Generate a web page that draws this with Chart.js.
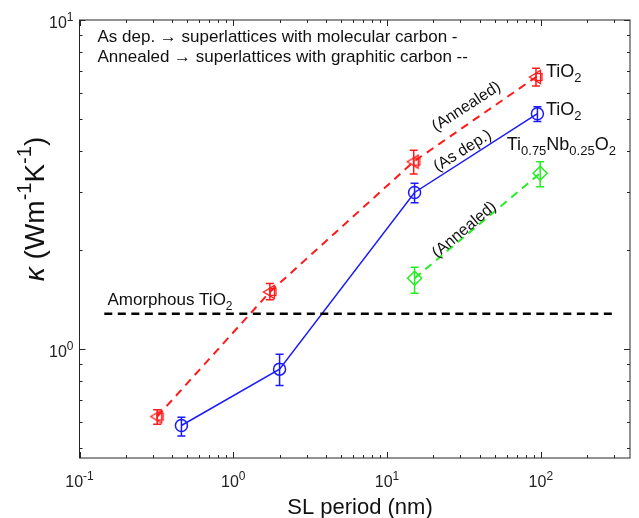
<!DOCTYPE html>
<html>
<head>
<meta charset="utf-8">
<script src="https://cdn.jsdelivr.net/npm/chart.js@4.4.1/dist/chart.umd.min.js"></script>
<style>
  html, body { margin: 0; padding: 0; background: #fff; }
  #wrap { width: 639px; height: 518px; }
</style>
</head>
<body>
<div id="wrap"><canvas id="kappaChart" width="639" height="518"></canvas></div>
<script>
// annealed TiO2 superlattices (graphitic carbon)
const periodAnnealed = [0.32, 1.73, 14.9, 93];
const kappaAnnealed = [0.623, 1.49, 3.71, 6.71];
const errLowAnnealed = [0.590, 1.41, 3.40, 6.30];
const errHighAnnealed = [0.653, 1.58, 4.02, 7.13];

// as deposited TiO2 superlattices (molecular carbon)
const periodAsDep = [0.46, 2.0, 15.1, 95];
const kappaAsDep = [0.585, 0.868, 2.99, 5.19];
const errLowAsDep = [0.544, 0.774, 2.78, 4.91];
const errHighAsDep = [0.620, 0.964, 3.19, 5.45];

// annealed Ti0.75Nb0.25O2
const periodNb = [15.1, 99];
const kappaNb = [1.64, 3.42];
const errLowNb = [1.476, 3.11];
const errHighNb = [1.77, 3.71];

// amorphous TiO2 reference line
const amorphousPeriod = [0.145, 300];
const amorphousKappa = [1.28, 1.28];

const xTickLabels = [0.1, 1, 10, 100];
const yTickLabels = [1, 10];

const FONT = '"Liberation Sans", Arial, Helvetica, sans-serif';
const RED = '#ff1a1a';
const BLUE = '#1a1aff';
const GREEN = '#22ee22';

function toPoints(xs, ys) {
  return xs.map((x, i) => ({ x: x, y: ys[i] }));
}

// triangle pointing left with a small square, like the matlab markers
function makeRedMarker() {
  const c = document.createElement('canvas');
  c.width = 18; c.height = 18;
  const g = c.getContext('2d');
  g.strokeStyle = RED;
  g.lineWidth = 1.3;
  g.beginPath();
  g.moveTo(2.5, 9);
  g.lineTo(13.5, 2.5);
  g.lineTo(13.5, 15.5);
  g.closePath();
  g.stroke();
  g.strokeRect(9, 5.5, 6, 7);
  return c;
}

// text pieces: [string, 'sub' | 'sup' | '' , italic?]
function drawRich(ctx, pieces, x, y, size, align) {
  const small = Math.round(size * 0.72);
  let total = 0;
  pieces.forEach(p => {
    ctx.font = (p[2] ? 'italic ' : '') + (p[1] ? small : size) + 'px ' + FONT;
    total += ctx.measureText(p[0]).width;
  });
  let cx = align === 'center' ? x - total / 2 : (align === 'right' ? x - total : x);
  pieces.forEach(p => {
    ctx.font = (p[2] ? 'italic ' : '') + (p[1] ? small : size) + 'px ' + FONT;
    let dy = 0;
    if (p[1] === 'sub') dy = size * 0.3;
    if (p[1] === 'sup') dy = -size * 0.45;
    ctx.fillText(p[0], cx, y + dy);
    cx += ctx.measureText(p[0]).width;
  });
}

function powLabel(v) {
  return [['10', ''], [String(Math.round(Math.log10(v))), 'sup']];
}

const errorSets = [
  { xs: periodAnnealed, lo: errLowAnnealed, hi: errHighAnnealed, color: RED },
  { xs: periodAsDep, lo: errLowAsDep, hi: errHighAsDep, color: BLUE },
  { xs: periodNb, lo: errLowNb, hi: errHighNb, color: GREEN }
];

// rotated notes along the lines, anchored in data units
const notes = [
  { text: '(Annealed)', x: 32.8, y: 5.45, angle: -33 },
  { text: '(As dep.)', x: 31, y: 4.0, angle: -32 },
  { text: '(Annealed)', x: 31.8, y: 2.3, angle: -40 }
];

const matlabLook = {
  id: 'matlabLook',
  afterDatasetsDraw(chart) {
    const ctx = chart.ctx;
    const xs = chart.scales.x, ys = chart.scales.y;
    ctx.save();
    ctx.lineWidth = 1.5;
    errorSets.forEach(s => {
      ctx.strokeStyle = s.color;
      s.xs.forEach((xv, i) => {
        const px = xs.getPixelForValue(xv);
        const top = ys.getPixelForValue(s.hi[i]);
        const bot = ys.getPixelForValue(s.lo[i]);
        ctx.beginPath();
        ctx.moveTo(px, top); ctx.lineTo(px, bot);
        ctx.moveTo(px - 4, top); ctx.lineTo(px + 4, top);
        ctx.moveTo(px - 4, bot); ctx.lineTo(px + 4, bot);
        ctx.stroke();
      });
    });
    ctx.restore();
  },
  afterDraw(chart) {
    const ctx = chart.ctx;
    const a = chart.chartArea;
    const xs = chart.scales.x, ys = chart.scales.y;
    ctx.save();
    ctx.strokeStyle = '#262626';
    ctx.lineWidth = 1;
    ctx.strokeRect(a.left, a.top, a.right - a.left, a.bottom - a.top);

    // ticks on all four sides, pointing in
    ctx.beginPath();
    for (let e = -1; e <= 2; e++) {
      for (let m = 1; m <= 9; m++) {
        const v = m * Math.pow(10, e);
        if (v < xs.min || v > xs.max) continue;
        const px = Math.round(xs.getPixelForValue(v)) + 0.5;
        const len = m === 1 ? 6 : 3;
        ctx.moveTo(px, a.bottom); ctx.lineTo(px, a.bottom - len);
        ctx.moveTo(px, a.top); ctx.lineTo(px, a.top + len);
      }
    }
    for (let e = -1; e <= 1; e++) {
      for (let m = 1; m <= 9; m++) {
        const v = m * Math.pow(10, e);
        if (v < ys.min || v > ys.max) continue;
        const py = Math.round(ys.getPixelForValue(v)) + 0.5;
        const len = m === 1 ? 6 : 3;
        ctx.moveTo(a.left, py); ctx.lineTo(a.left + len, py);
        ctx.moveTo(a.right, py); ctx.lineTo(a.right - len, py);
      }
    }
    ctx.stroke();

    // tick labels
    ctx.fillStyle = '#222';
    ctx.textBaseline = 'alphabetic';
    xTickLabels.forEach(v => {
      drawRich(ctx, powLabel(v), xs.getPixelForValue(v), a.bottom + 29, 16, 'center');
    });
    yTickLabels.forEach(v => {
      drawRich(ctx, powLabel(v), a.left - 6, ys.getPixelForValue(v) + 8, 16, 'right');
    });

    // axis titles
    ctx.fillStyle = '#111';
    ctx.textAlign = 'left';
    drawRich(ctx, [['SL period (nm)', '']], 360, 514, 22, 'center');
    ctx.save();
    ctx.translate(44, 209);
    ctx.rotate(-Math.PI / 2);
    drawRich(ctx, [['\u03ba', '', true], [' (Wm', ''], ['-1', 'sup'], ['K', ''], ['-1', 'sup'], [')', '']], 0, 0, 28, 'center');
    ctx.restore();

    // note box in the top left corner
    ctx.fillStyle = '#111';
    drawRich(ctx, [['As dep. \u2192 superlattices with molecular carbon -', '']], a.left + 18, a.top + 22, 17, 'left');
    drawRich(ctx, [['Annealed \u2192 superlattices with graphitic carbon --', '']], a.left + 18, a.top + 42, 17, 'left');

    // series labels
    drawRich(ctx, [['TiO', ''], ['2', 'sub']], xs.getPixelForValue(108), ys.getPixelForValue(6.71), 18, 'left');
    drawRich(ctx, [['TiO', ''], ['2', 'sub']], xs.getPixelForValue(108), ys.getPixelForValue(5.14), 18, 'left');
    drawRich(ctx, [['Ti', ''], ['0.75', 'sub'], ['Nb', ''], ['0.25', 'sub'], ['O', ''], ['2', 'sub']],
      xs.getPixelForValue(60), ys.getPixelForValue(4.03), 18, 'left');
    drawRich(ctx, [['Amorphous TiO', ''], ['2', 'sub']], xs.getPixelForValue(0.152), ys.getPixelForValue(1.36), 17, 'left');

    notes.forEach(n => {
      ctx.save();
      ctx.translate(xs.getPixelForValue(n.x), ys.getPixelForValue(n.y));
      ctx.rotate(n.angle * Math.PI / 180);
      ctx.textBaseline = 'middle';
      drawRich(ctx, [[n.text, '']], 0, 0, 16, 'center');
      ctx.restore();
    });
    ctx.restore();
  }
};

const ctx = document.getElementById('kappaChart').getContext('2d');
const kappaChart = new Chart(ctx, {
  type: 'scatter',
  data: {
    datasets: [
      {
        label: 'Amorphous TiO2',
        data: toPoints(amorphousPeriod, amorphousKappa),
        showLine: true,
        borderColor: '#000',
        borderWidth: 2.5,
        borderDash: [8, 5.5],
        pointRadius: 0
      },
      {
        label: 'Annealed TiO2',
        data: toPoints(periodAnnealed, kappaAnnealed),
        showLine: true,
        borderColor: RED,
        borderWidth: 2,
        borderDash: [8, 6],
        pointStyle: makeRedMarker(),
        pointRadius: 7
      },
      {
        label: 'As dep. TiO2',
        data: toPoints(periodAsDep, kappaAsDep),
        showLine: true,
        borderColor: BLUE,
        borderWidth: 1.5,
        pointStyle: 'circle',
        pointRadius: 6,
        pointBorderWidth: 1.5,
        pointBackgroundColor: 'rgba(0,0,0,0)'
      },
      {
        label: 'Annealed Ti0.75Nb0.25O2',
        data: toPoints(periodNb, kappaNb),
        showLine: true,
        borderColor: GREEN,
        borderWidth: 2,
        borderDash: [8, 6],
        pointStyle: 'rectRot',
        pointRadius: 7,
        pointBorderWidth: 1.5,
        pointBackgroundColor: 'rgba(0,0,0,0)'
      }
    ]
  },
  options: {
    responsive: false,
    animation: false,
    layout: { padding: { top: 20, right: 1, left: 0, bottom: 0 } },
    plugins: {
      legend: { display: false },
      tooltip: { enabled: false }
    },
    scales: {
      x: {
        type: 'logarithmic',
        min: 0.1,
        max: 380,
        grid: { display: false },
        border: { display: false },
        ticks: { display: false },
        afterFit: s => { s.height = 60; }
      },
      y: {
        type: 'logarithmic',
        min: 0.466,
        max: 10,
        grid: { display: false },
        border: { display: false },
        ticks: { display: false },
        afterFit: s => { s.width = 79.5; }
      }
    }
  },
  plugins: [matlabLook]
});
</script>
</body>
</html>
